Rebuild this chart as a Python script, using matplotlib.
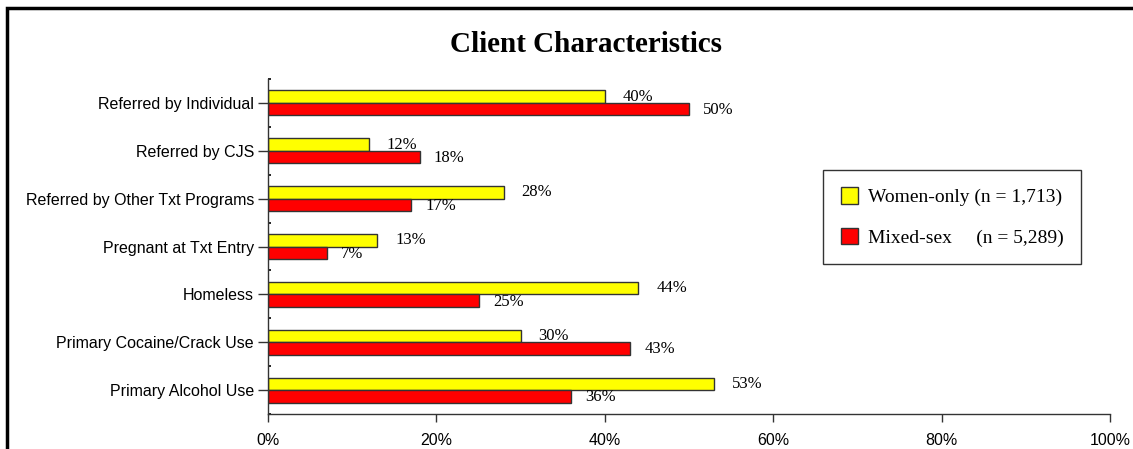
import numpy as np
import matplotlib
matplotlib.use("Agg")
import matplotlib.pyplot as plt
from matplotlib.patches import Rectangle, Patch

categories = ["Referred by Individual", "Referred by CJS", "Referred by Other Txt Programs",
              "Pregnant at Txt Entry", "Homeless", "Primary Cocaine/Crack Use",
              "Primary Alcohol Use"]
women_only = [40, 12, 28, 13, 44, 30, 53]
mixed_sex = [50, 18, 17, 7, 25, 43, 36]
series_labels = ["Women-only (n = 1,713)", "Mixed-sex     (n = 5,289)"]
xticks = [0, 20, 40, 60, 80, 100]

W, H = 1133, 449
fig = plt.figure(figsize=(W / 100, H / 100), dpi=100)
ax = fig.add_axes([268 / W, (H - 414) / H, (1110 - 268) / W, (414 - 79) / H])

y = np.arange(len(categories))
bh = 0.26
ax.barh(y - bh / 2, women_only, height=bh, color="#FFFF00", edgecolor="#333333", linewidth=1)
ax.barh(y + bh / 2, mixed_sex, height=bh, color="#FF0000", edgecolor="#333333", linewidth=1)

serif = "Liberation Serif"
sans = "Liberation Sans"
for yi, v in zip(y, women_only):
    ax.text(v + 2.1, yi - bh / 2, f"{v}%", va="center", ha="left",
            family=serif, fontsize=12)
for yi, v in zip(y, mixed_sex):
    ax.text(v + 1.7, yi + bh / 2 + 0.02, f"{v}%", va="center", ha="left",
            family=serif, fontsize=12)

ax.set_xlim(0, 100)
ax.set_ylim(len(categories) - 0.5, -0.5)
ax.set_xticks(xticks)
ax.set_xticklabels([f"{t}%" for t in xticks], family=sans, fontsize=11.5)
ax.set_yticks(y)
ax.set_yticklabels(categories, family=sans, fontsize=11.5)
ax.set_yticks(np.arange(len(categories) + 1) - 0.5, minor=True)
ax.tick_params(axis="y", which="major", direction="out", length=7, width=1, pad=3, color="#333333")
ax.tick_params(axis="y", which="minor", direction="in", length=2, width=1.2, color="black")
ax.tick_params(axis="x", direction="out", length=6, width=1, pad=8, color="#333333")

for s in ["top", "right"]:
    ax.spines[s].set_visible(False)
for s in ["left", "bottom"]:
    ax.spines[s].set_color("#333333")
    ax.spines[s].set_linewidth(1)

fig.text(586 / W, 1 - 45 / H, "Client Characteristics", ha="center", va="center",
         family=serif, fontweight="bold", fontsize=21)

handles = [Patch(facecolor="#FFFF00", edgecolor="#333333"),
           Patch(facecolor="#FF0000", edgecolor="#333333")]
leg = fig.legend(handles, series_labels, loc="upper left",
                 bbox_to_anchor=(823 / W, 1 - 170 / H), bbox_transform=fig.transFigure,
                 prop={"family": serif, "size": 14}, fancybox=False, framealpha=1,
                 edgecolor="#333333", handlelength=0.9, handleheight=0.9,
                 handletextpad=0.5, labelspacing=1.1, borderpad=0.9, borderaxespad=0)
leg.get_frame().set_linewidth(1)

# outer frame, cut off at the right and bottom
fig.patches.append(Rectangle((7 / W, -0.2), 1.5, 1.2 - 8 / H, transform=fig.transFigure,
                             fill=False, edgecolor="black", linewidth=2.5, clip_on=False))

fig.savefig("out.png", dpi=100)
